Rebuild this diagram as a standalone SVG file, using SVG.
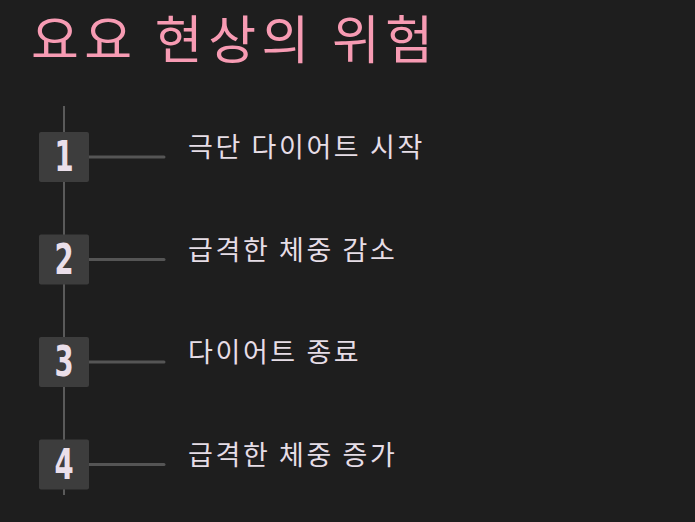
<svg xmlns="http://www.w3.org/2000/svg" width="695" height="522" viewBox="0 0 695 522">
<style>
.title{font-family:"Noto Sans CJK KR","Noto Sans",sans-serif;font-size:52px;letter-spacing:5.5px;fill:#f79bb3}
.lbl{font-family:"Noto Sans CJK KR","Noto Sans",sans-serif;font-size:27px;letter-spacing:2.6px;fill:#e6dde6}
.num{font-family:"Liberation Sans Narrow","DejaVu Sans Condensed",sans-serif;font-weight:bold;font-size:34px;fill:#eadfea;text-anchor:middle}
.box{fill:#3d3d3d}
.conn{stroke:#555;stroke-width:3;stroke-linecap:round;fill:none}
.spine{stroke:#5a5a5a;stroke-width:2;fill:none}
</style>
<rect width="695" height="522" fill="#1e1e1e"/>
<text class="title" x="31" y="59">요요 현상의 위험</text>
<g id="connectors">
<line class="spine" x1="64" y1="106" x2="64" y2="495"/>
<line class="conn" x1="89" y1="157" x2="164" y2="157"/>
<line class="conn" x1="89" y1="259.5" x2="164" y2="259.5"/>
<line class="conn" x1="89" y1="362" x2="164" y2="362"/>
<line class="conn" x1="89" y1="464.5" x2="164" y2="464.5"/>
</g>
<g id="node1">
<rect class="box" x="39" y="132" width="50" height="50" rx="2"/>
<text class="num" transform="translate(64,171) scale(0.9,1.25)">1</text>
<text class="lbl" x="188" y="157">극단 다이어트 시작</text>
</g>
<g id="node2">
<rect class="box" x="39" y="234.5" width="50" height="50" rx="2"/>
<text class="num" transform="translate(64,273.5) scale(0.9,1.25)">2</text>
<text class="lbl" x="188" y="259.5">급격한 체중 감소</text>
</g>
<g id="node3">
<rect class="box" x="39" y="337" width="50" height="50" rx="2"/>
<text class="num" transform="translate(64,376) scale(0.9,1.25)">3</text>
<text class="lbl" x="188" y="362">다이어트 종료</text>
</g>
<g id="node4">
<rect class="box" x="39" y="439.5" width="50" height="50" rx="2"/>
<text class="num" transform="translate(64,478.5) scale(0.9,1.25)">4</text>
<text class="lbl" x="188" y="464.5">급격한 체중 증가</text>
</g>
</svg>
